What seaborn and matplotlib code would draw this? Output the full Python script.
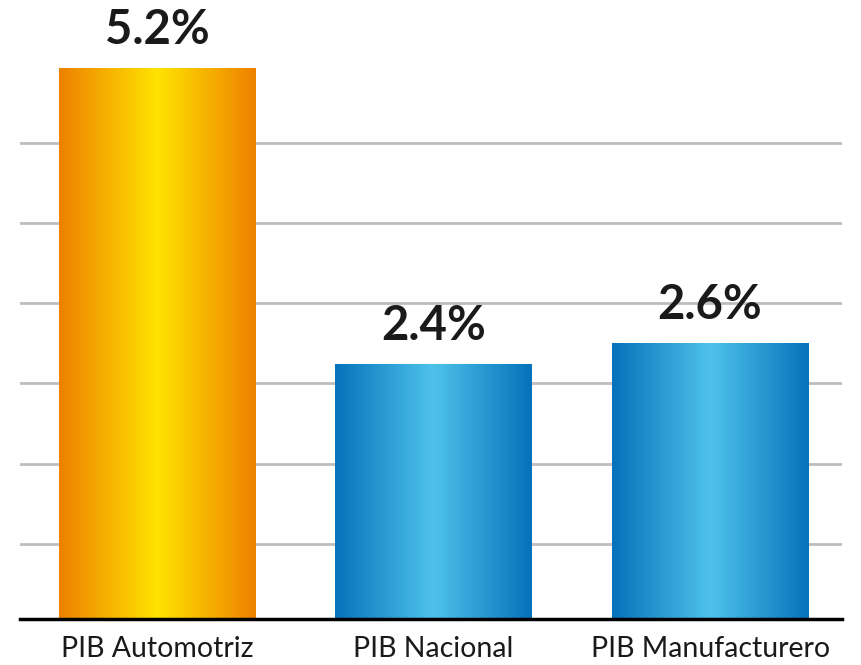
import matplotlib
matplotlib.use("Agg")
import matplotlib.pyplot as plt
import numpy as np
import pandas as pd
import seaborn as sns
from matplotlib.colors import LinearSegmentedColormap

categories = ["PIB Automotriz", "PIB Nacional", "PIB Manufacturero"]
values = [5.2, 2.4, 2.6]
value_labels = ["5.2%", "2.4%", "2.6%"]
bar_colors = [("#EE8100", "#FFE400"), ("#0572BA", "#4FC2EB"), ("#0572BA", "#4FC2EB")]

df = pd.DataFrame({"categoria": categories, "valor": values})

sns.set_style("white")
plt.rcParams["font.family"] = ["Lato", "DejaVu Sans"]

fig = plt.figure(figsize=(8.62, 6.65), dpi=100)
ax = fig.add_axes([20 / 862, 46.3 / 665, 822 / 862, 618.7 / 665])

sns.barplot(data=df, x="categoria", y="valor", ax=ax, width=0.71, color="white")

px_per_unit = 106.0
ymax = 618.7 / px_per_unit
grid_ticks = 0.705 + np.arange(6) * 0.757

# gradient fill for each bar, clipped to the bar rectangle
grad = np.abs(np.linspace(-1, 1, 256))[None, :]
for patch, (edge, center) in zip(ax.patches, bar_colors):
    cmap = LinearSegmentedColormap.from_list("g", [center, edge])
    x0 = patch.get_x()
    w = patch.get_width()
    h = patch.get_height()
    im = ax.imshow(grad, extent=[x0, x0 + w, 0, h], aspect="auto", cmap=cmap,
                   vmin=0, vmax=1, zorder=3, interpolation="bicubic")
    im.set_clip_path(patch)
    patch.set_facecolor("none")
    patch.set_edgecolor("none")

for i, (v, lab) in enumerate(zip(values, value_labels)):
    ax.text(i, v + 0.15, lab, ha="center", va="bottom", fontsize=34,
            fontweight="bold", color="#1a1a1a")

ax.set_xlim(-0.495, 2.477)
ax.set_ylim(0, ymax)
ax.set_yticks(grid_ticks)
ax.yaxis.grid(True, color="#bdbdbd", linewidth=2)
ax.set_axisbelow(True)
ax.tick_params(axis="y", left=False, labelleft=False)
ax.tick_params(axis="x", bottom=False, labelsize=20.5, colors="#1a1a1a", pad=9)
ax.set_xlabel("")
ax.set_ylabel("")
for s in ["left", "right", "top"]:
    ax.spines[s].set_visible(False)
ax.spines["bottom"].set_color("black")
ax.spines["bottom"].set_linewidth(2.5)
ax.spines["bottom"].set_zorder(5)

fig.savefig("out.png", dpi=100)
